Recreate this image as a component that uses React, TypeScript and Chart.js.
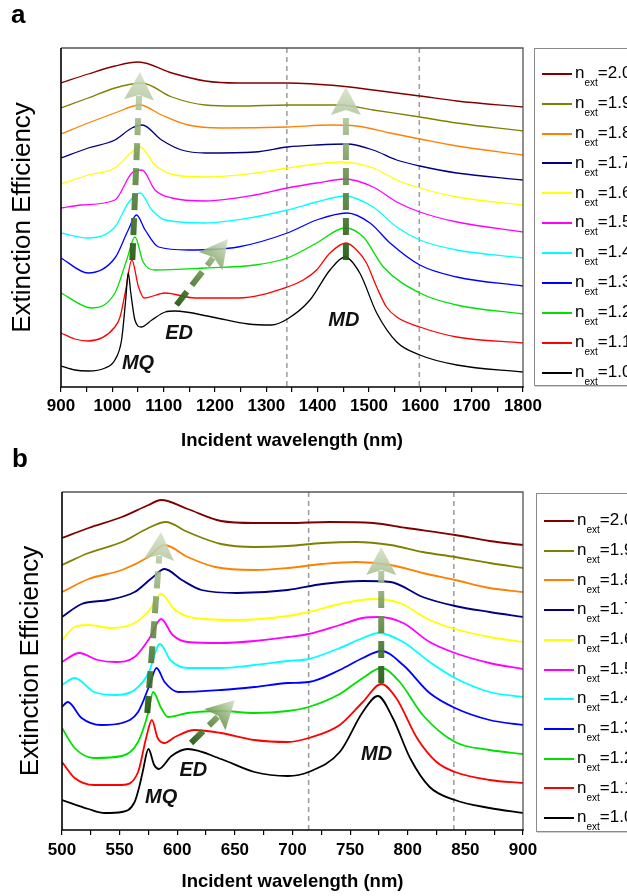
import React, { useEffect, useRef } from 'react';
import { Chart, registerables } from 'chart.js';

Chart.register(...registerables);

type Pt = [number, number];

const FONT = '"Liberation Sans", Arial, Helvetica, sans-serif';

// legend labels and colours, ordered n_ext = 1.0 ... 2.0
const nValues = ['1.0', '1.1', '1.2', '1.3', '1.4', '1.5', '1.6', '1.7', '1.8', '1.9', '2.0'];
const seriesColors = ['#000000', '#ff0000', '#00e000', '#0000ff', '#00ffff', '#ff00ff', '#ffff00', '#000080', '#ff8000', '#808000', '#800000'];

// ---------- Panel a : wavelength (nm) vs offset extinction efficiency ----------
const a10: Pt[] = [[900, 21], [927, 17], [953, 16], [986, 19], [1005, 27], [1018, 47], [1026, 87], [1031, 114], [1036, 94], [1044, 67], [1056, 60], [1077, 67], [1103, 75], [1122, 76], [1194, 70], [1265, 63], [1310, 62], [1341, 68], [1385, 87], [1424, 117], [1453, 130], [1482, 114], [1515, 74], [1554, 45], [1599, 32], [1671, 22], [1800, 15]];
const a11: Pt[] = [[900, 54], [927, 48], [953, 46], [1005, 60], [1015, 70], [1025, 94], [1038, 127], [1051, 100], [1062, 89], [1103, 94], [1161, 89], [1245, 89], [1341, 100], [1372, 107], [1398, 117], [1424, 134], [1455, 144], [1476, 137], [1495, 124], [1515, 100], [1534, 80], [1554, 70], [1599, 60], [1671, 50], [1800, 44]];
const a12: Pt[] = [[900, 94], [960, 79], [1005, 94], [1028, 127], [1044, 150], [1060, 125], [1083, 117], [1181, 119], [1278, 122], [1341, 129], [1398, 144], [1453, 159], [1489, 150], [1528, 120], [1599, 94], [1671, 82], [1800, 73]];
const a13: Pt[] = [[900, 129], [953, 114], [1005, 129], [1031, 157], [1047, 172], [1064, 157], [1090, 140], [1148, 137], [1245, 140], [1341, 154], [1398, 167], [1457, 174], [1502, 164], [1541, 144], [1599, 122], [1671, 110], [1800, 101]];
const a14: Pt[] = [[900, 154], [953, 149], [1005, 160], [1031, 184], [1054, 194], [1077, 177], [1103, 167], [1181, 164], [1278, 170], [1341, 177], [1398, 185], [1453, 191], [1508, 180], [1554, 160], [1599, 147], [1671, 137], [1800, 129]];
const a15: Pt[] = [[900, 179], [940, 182], [1005, 187], [1038, 214], [1058, 217], [1083, 197], [1116, 189], [1181, 186], [1278, 192], [1341, 199], [1398, 204], [1453, 208], [1508, 200], [1554, 185], [1599, 175], [1671, 165], [1800, 155]];
const a16: Pt[] = [[900, 203], [953, 212], [1005, 219], [1038, 235], [1054, 240], [1083, 222], [1122, 212], [1181, 210], [1278, 214], [1341, 219], [1398, 223], [1444, 225], [1508, 219], [1554, 207], [1599, 199], [1671, 190], [1800, 182]];
const a17: Pt[] = [[900, 229], [953, 239], [1005, 247], [1038, 259], [1058, 262], [1096, 247], [1135, 237], [1181, 234], [1278, 235], [1341, 240], [1398, 242], [1457, 243], [1508, 237], [1554, 227], [1599, 221], [1671, 214], [1800, 207]];
const a18: Pt[] = [[900, 253], [953, 264], [1005, 274], [1054, 282], [1096, 272], [1148, 262], [1213, 259], [1341, 260], [1424, 262], [1476, 261], [1541, 254], [1599, 248], [1671, 241], [1800, 232]];
const a19: Pt[] = [[900, 279], [953, 289], [1005, 299], [1057, 304], [1116, 290], [1181, 282], [1245, 281], [1341, 282], [1444, 282], [1508, 277], [1599, 270], [1671, 264], [1800, 256]];
const a20: Pt[] = [[900, 304], [953, 313], [1005, 321], [1051, 325], [1116, 314], [1181, 306], [1245, 304], [1341, 304], [1444, 301], [1508, 297], [1599, 291], [1671, 286], [1800, 280]];

// ---------- Panel b ----------
const b10: Pt[] = [[500, 30], [523, 21], [537, 17], [552, 18], [563, 28], [567, 43], [570, 58], [575, 81], [580, 65], [584, 61], [595, 74], [609, 81], [638, 71], [667, 58], [696, 54], [714, 58], [741, 78], [761, 118], [774, 134], [787, 112], [802, 72], [819, 43], [841, 30], [871, 22], [900, 17]];
const b11: Pt[] = [[500, 68], [511, 52], [528, 45], [552, 45], [566, 58], [573, 92], [578, 110], [583, 92], [589, 87], [598, 93], [615, 100], [638, 97], [667, 90], [696, 88], [714, 92], [741, 105], [761, 128], [777, 146], [790, 132], [808, 92], [825, 68], [841, 58], [871, 50], [900, 47]];
const b12: Pt[] = [[500, 102], [511, 82], [528, 72], [552, 74], [566, 88], [575, 118], [579, 138], [586, 122], [592, 113], [609, 117], [638, 119], [667, 117], [696, 119], [714, 123], [741, 136], [761, 152], [777, 162], [793, 148], [813, 115], [841, 88], [871, 80], [900, 76]];
const b13: Pt[] = [[500, 123], [505, 128], [517, 112], [534, 105], [552, 107], [566, 118], [576, 145], [582, 162], [589, 148], [601, 138], [638, 140], [667, 143], [696, 147], [714, 148], [741, 160], [761, 172], [777, 179], [796, 165], [819, 137], [841, 122], [871, 110], [900, 105]];
const b14: Pt[] = [[500, 145], [511, 152], [528, 138], [546, 135], [563, 140], [575, 157], [585, 186], [594, 170], [609, 162], [638, 162], [667, 165], [696, 169], [714, 171], [741, 182], [761, 192], [775, 197], [796, 188], [819, 168], [841, 152], [871, 138], [900, 133]];
const b15: Pt[] = [[500, 168], [515, 177], [531, 170], [546, 168], [563, 173], [576, 192], [586, 211], [596, 195], [609, 188], [638, 187], [667, 189], [696, 193], [714, 196], [741, 205], [761, 212], [775, 213], [796, 207], [819, 188], [841, 177], [871, 167], [900, 161]];
const b16: Pt[] = [[500, 190], [511, 203], [523, 205], [543, 202], [563, 207], [576, 220], [586, 236], [598, 220], [615, 212], [652, 210], [696, 214], [714, 218], [741, 226], [770, 231], [793, 227], [819, 210], [841, 201], [871, 193], [900, 188]];
const b17: Pt[] = [[500, 213], [517, 226], [540, 230], [563, 238], [578, 252], [589, 261], [604, 250], [621, 240], [652, 237], [696, 240], [726, 246], [761, 249], [785, 248], [813, 233], [841, 224], [871, 218], [900, 213]];
const b18: Pt[] = [[500, 238], [523, 251], [552, 260], [575, 273], [589, 285], [609, 273], [633, 263], [667, 260], [696, 262], [726, 266], [755, 268], [785, 265], [813, 257], [841, 250], [871, 242], [900, 238]];
const b19: Pt[] = [[500, 265], [523, 277], [552, 288], [575, 302], [590, 308], [609, 298], [638, 286], [667, 283], [696, 284], [726, 287], [755, 288], [785, 285], [813, 278], [841, 273], [871, 267], [900, 262]];
const b20: Pt[] = [[500, 292], [523, 302], [552, 313], [575, 325], [586, 330], [609, 321], [638, 309], [667, 307], [696, 307], [732, 308], [770, 307], [799, 302], [841, 295], [871, 289], [900, 285]];

// reference (dashed) wavelengths
const dashedA = [1340, 1598];
const dashedB = [714, 840];

// trend arrows (data coordinates: start -> tip)
interface Arrow { x0: number; y0: number; x1: number; y1: number }
const arrowsA: Arrow[] = [
  { x0: 1039, y0: 127, x1: 1054, y1: 315 },
  { x0: 1125, y0: 82, x1: 1225, y1: 148 },
  { x0: 1455, y0: 127, x1: 1455, y1: 300 },
];
const arrowsB: Arrow[] = [
  { x0: 574, y0: 117, x1: 586, y1: 298 },
  { x0: 612, y0: 87, x1: 650, y1: 130 },
  { x0: 777, y0: 147, x1: 777, y1: 283 },
];

// mode labels
interface Note { text: string; x: number; y: number }
const notesA: Note[] = [
  { text: 'MQ', x: 1050, y: 24 },
  { text: 'ED', x: 1130, y: 54 },
  { text: 'MD', x: 1451, y: 67 },
];
const notesB: Note[] = [
  { text: 'MQ', x: 586, y: 33 },
  { text: 'ED', x: 614, y: 60 },
  { text: 'MD', x: 773, y: 76 },
];

function overlayPlugin(dashed: number[], arrows: Arrow[], notes: Note[]) {
  return {
    id: 'overlay',
    beforeDatasetsDraw(chart: any) {
      const { ctx, chartArea, scales } = chart;
      const xs = scales.x;
      ctx.save();
      ctx.strokeStyle = '#9a9a9a';
      ctx.lineWidth = 1.5;
      ctx.setLineDash([5, 4]);
      dashed.forEach((v) => {
        const px = xs.getPixelForValue(v);
        ctx.beginPath();
        ctx.moveTo(px, chartArea.top);
        ctx.lineTo(px, chartArea.bottom);
        ctx.stroke();
      });
      ctx.restore();
    },
    afterDatasetsDraw(chart: any) {
      const { ctx, chartArea, scales } = chart;
      const xs = scales.x;
      const ys = scales.y;
      ctx.save();
      // arrows
      arrows.forEach((a) => {
        const p0x = xs.getPixelForValue(a.x0);
        const p0y = ys.getPixelForValue(a.y0);
        const p1x = xs.getPixelForValue(a.x1);
        const p1y = ys.getPixelForValue(a.y1);
        const dx = p1x - p0x;
        const dy = p1y - p0y;
        const len = Math.hypot(dx, dy);
        const ux = dx / len;
        const uy = dy / len;
        const headLen = 28;
        const halfW = 15;
        const bx = p1x - ux * headLen;
        const by = p1y - uy * headLen;
        const g = ctx.createLinearGradient(p0x, p0y, p1x, p1y);
        g.addColorStop(0, 'rgba(36,92,20,0.95)');
        g.addColorStop(0.55, 'rgba(112,150,82,0.9)');
        g.addColorStop(1, 'rgba(212,224,198,0.85)');
        ctx.strokeStyle = g;
        ctx.lineWidth = 6;
        ctx.lineCap = 'butt';
        ctx.setLineDash([17, 8]);
        ctx.beginPath();
        ctx.moveTo(p0x, p0y);
        ctx.lineTo(bx + ux * 4, by + uy * 4);
        ctx.stroke();
        ctx.setLineDash([]);
        ctx.fillStyle = g;
        ctx.beginPath();
        ctx.moveTo(p1x, p1y);
        ctx.lineTo(bx - uy * halfW, by + ux * halfW);
        ctx.lineTo(bx + ux * 5, by + uy * 5);
        ctx.lineTo(bx + uy * halfW, by - ux * halfW);
        ctx.closePath();
        ctx.fill();
      });
      // mode labels
      ctx.fillStyle = '#111';
      ctx.font = 'italic bold 20px ' + FONT;
      ctx.textAlign = 'center';
      ctx.textBaseline = 'middle';
      notes.forEach((n) => {
        ctx.fillText(n.text, xs.getPixelForValue(n.x), ys.getPixelForValue(n.y));
      });
      // frame
      const { left, right, top, bottom } = chartArea;
      ctx.lineWidth = 1.3;
      ctx.strokeStyle = '#555';
      ctx.beginPath();
      ctx.moveTo(left, top);
      ctx.lineTo(right, top);
      ctx.lineTo(right, bottom);
      ctx.stroke();
      ctx.lineWidth = 1.6;
      ctx.strokeStyle = '#000';
      ctx.beginPath();
      ctx.moveTo(left, top);
      ctx.lineTo(left, bottom);
      ctx.lineTo(right + 0.8, bottom);
      ctx.stroke();
      ctx.restore();
    },
  };
}

interface PanelProps {
  canvasTop: number;
  canvasHeight: number;
  padTop: number;
  axisLeftWidth: number;
  chartRight: number;
  axisBottomHeight: number;
  xMin: number;
  xMax: number;
  step: number;
  labelStep: number;
  yMax: number;
  series: Pt[][];
  lineWidth: number;
  dashed: number[];
  arrows: Arrow[];
  notes: Note[];
  tickPad: number;
  xTitlePad: number;
  yTitlePad: number;
}

function Panel(p: PanelProps) {
  const ref = useRef<HTMLCanvasElement>(null);
  useEffect(() => {
    if (!ref.current) return;
    const chart = new Chart(ref.current, {
      type: 'line',
      data: {
        datasets: p.series.map((s, i) => ({
          label: 'n_ext=' + nValues[i],
          data: s.map(([x, y]) => ({ x, y })),
          borderColor: seriesColors[i],
          borderWidth: p.lineWidth,
          pointRadius: 0,
          fill: false,
          cubicInterpolationMode: 'monotone' as const,
          borderJoinStyle: 'round' as const,
        })),
      },
      options: {
        responsive: false,
        animation: false,
        devicePixelRatio: 1,
        layout: { padding: { left: 0, top: p.padTop, right: 627 - p.chartRight, bottom: 0 } },
        plugins: { legend: { display: false }, tooltip: { enabled: false } },
        scales: {
          x: {
            type: 'linear',
            min: p.xMin,
            max: p.xMax,
            afterFit: (s: any) => { s.height = p.axisBottomHeight; },
            ticks: {
              stepSize: p.step,
              autoSkip: false,
              maxRotation: 0,
              padding: p.tickPad,
              color: '#000',
              font: { family: FONT, size: 17, weight: 'bold' },
              callback: (v: any) => (Number(v) % p.labelStep === 0 ? String(v) : ''),
            },
            grid: { display: true, drawOnChartArea: false, drawTicks: true, tickLength: 5, color: '#000', lineWidth: 1.2 },
            border: { display: false },
            title: {
              display: true,
              text: 'Incident wavelength (nm)',
              color: '#000',
              font: { family: FONT, size: 18.5, weight: 'bold' },
              padding: { top: 0, bottom: p.xTitlePad },
            },
          },
          y: {
            type: 'linear',
            min: 0,
            max: p.yMax,
            afterFit: (s: any) => { s.width = p.axisLeftWidth; },
            ticks: { display: false },
            grid: { display: false },
            border: { display: false },
            title: {
              display: true,
              text: 'Extinction Efficiency',
              color: '#000',
              font: { family: FONT, size: 26, weight: 'normal' },
              padding: { top: p.yTitlePad, bottom: 0 },
            },
          },
        },
      } as any,
      plugins: [overlayPlugin(p.dashed, p.arrows, p.notes)],
    });
    return () => chart.destroy();
  }, []);
  return (
    <canvas
      ref={ref}
      width={627}
      height={p.canvasHeight}
      style={{ position: 'absolute', left: 0, top: p.canvasTop, width: 627, height: p.canvasHeight, display: 'block' }}
    />
  );
}

function Legend({ left, top, height, first, spacing }: { left: number; top: number; height: number; first: number; spacing: number }) {
  const order = [...nValues.keys()].reverse();
  return (
    <div
      style={{
        position: 'absolute',
        left,
        top,
        width: 130,
        height,
        border: '1px solid #8a8a8a',
        boxShadow: '1px 1px 0 #d0d0d0',
        background: '#fff',
        boxSizing: 'border-box',
      }}
    >
      {order.map((idx, k) => {
        const c = first + k * spacing;
        return (
          <React.Fragment key={idx}>
            <div style={{ position: 'absolute', left: 7, top: c - 1, width: 30, height: 2, background: seriesColors[idx] }} />
            <div
              style={{
                position: 'absolute',
                left: 40,
                top: c - 11.8,
                fontFamily: FONT,
                fontSize: 17,
                lineHeight: '21px',
                color: '#000',
                whiteSpace: 'nowrap',
              }}
            >
              n<span style={{ fontSize: 10, position: 'relative', top: 8 }}>ext</span>={nValues[idx]}
            </div>
          </React.Fragment>
        );
      })}
    </div>
  );
}

export default function App() {
  const labelStyle: React.CSSProperties = {
    position: 'absolute',
    fontFamily: FONT,
    fontWeight: 'bold',
    fontSize: 26,
    lineHeight: 1,
    color: '#000',
  };
  return (
    <div style={{ position: 'absolute', left: 0, top: 0, width: 627, height: 896, overflow: 'hidden', background: '#fff' }}>
      <Panel
        canvasTop={0}
        canvasHeight={452}
        padTop={48}
        axisLeftWidth={61}
        chartRight={523}
        axisBottomHeight={65}
        xMin={900}
        xMax={1800}
        step={50}
        labelStep={100}
        yMax={339}
        series={[a10, a11, a12, a13, a14, a15, a16, a17, a18, a19, a20]}
        lineWidth={1.3}
        dashed={dashedA}
        arrows={arrowsA}
        notes={notesA}
        tickPad={4}
        xTitlePad={0}
        yTitlePad={7}
      />
      <Panel
        canvasTop={452}
        canvasHeight={444}
        padTop={40}
        axisLeftWidth={62}
        chartRight={523}
        axisBottomHeight={66}
        xMin={500}
        xMax={900}
        step={25}
        labelStep={50}
        yMax={338}
        series={[b10, b11, b12, b13, b14, b15, b16, b17, b18, b19, b20]}
        lineWidth={1.8}
        dashed={dashedB}
        arrows={arrowsB}
        notes={notesB}
        tickPad={5}
        xTitlePad={3}
        yTitlePad={15}
      />
      <Legend left={534} top={48} height={338} first={24.7} spacing={29.9} />
      <Legend left={536} top={493} height={339} first={27} spacing={29.7} />
      <div style={{ ...labelStyle, left: 11, top: 1.4 }}>a</div>
      <div style={{ ...labelStyle, left: 12, top: 445.4 }}>b</div>
    </div>
  );
}
